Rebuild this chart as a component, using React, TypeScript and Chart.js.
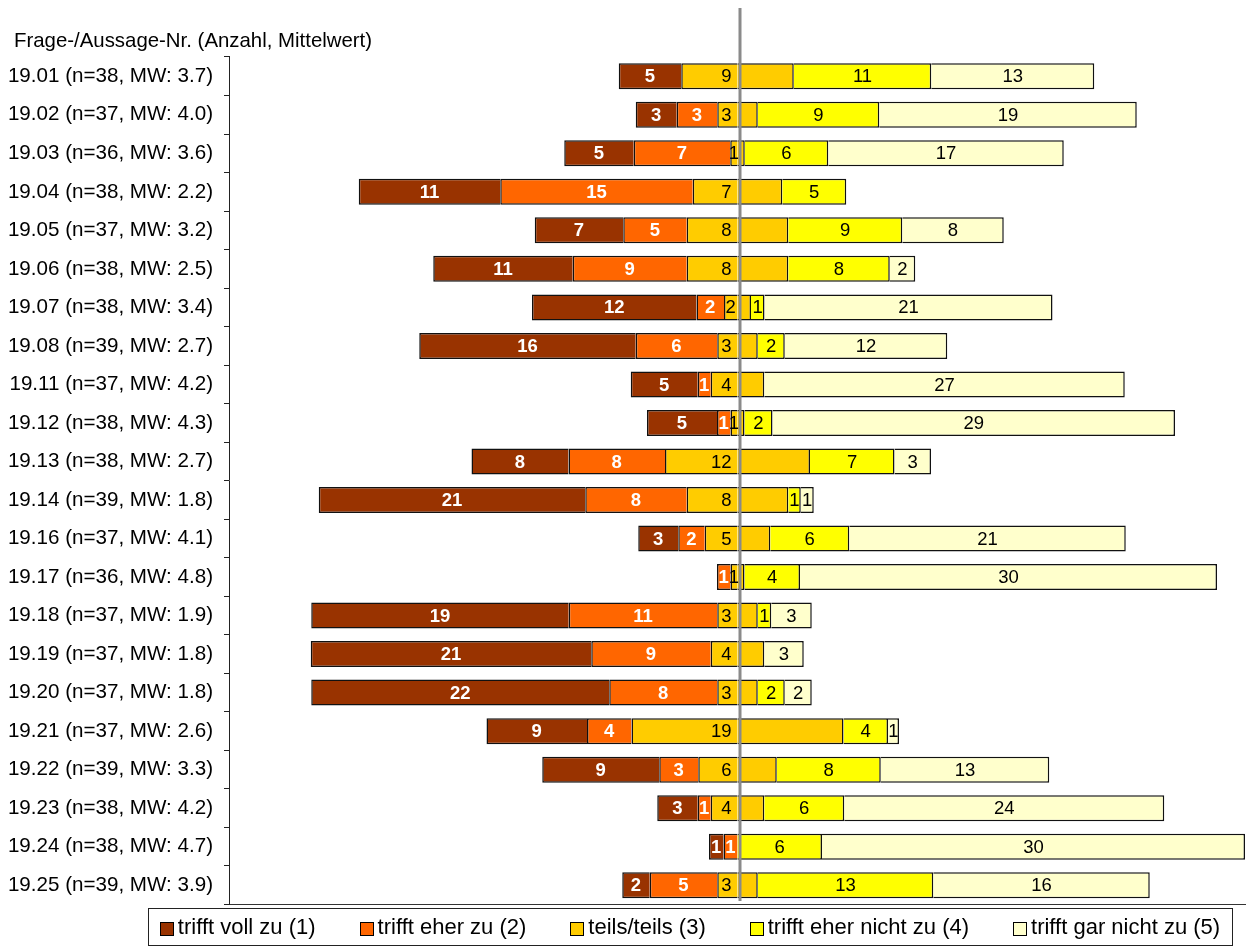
import React, { useEffect, useRef } from 'react';
import { Chart, registerables } from 'chart.js';

Chart.register(...registerables);

const FONT = "'Liberation Sans', Arial, Helvetica, sans-serif";

// ---- data -------------------------------------------------------------
const questionIds = ['19.01', '19.02', '19.03', '19.04', '19.05', '19.06', '19.07', '19.08', '19.11', '19.12', '19.13',
  '19.14', '19.16', '19.17', '19.18', '19.19', '19.20', '19.21', '19.22', '19.23', '19.24', '19.25'];
const respondents = [38, 37, 36, 38, 37, 38, 38, 39, 37, 38, 38, 39, 37, 36, 37, 37, 37, 37, 39, 38, 38, 39];
const means = [3.7, 4.0, 3.6, 2.2, 3.2, 2.5, 3.4, 2.7, 4.2, 4.3, 2.7, 1.8, 4.1, 4.8, 1.9, 1.8, 1.8, 2.6, 3.3, 4.2, 4.7, 3.9];

const seriesNames = ['trifft voll zu (1)', 'trifft eher zu (2)', 'teils/teils (3)', 'trifft eher nicht zu (4)', 'trifft gar nicht zu (5)'];
const seriesColors = ['#993300', '#FF6600', '#FFCC00', '#FFFF00', '#FFFFCC'];

// counts shown as segment labels
const count1 = [5, 3, 5, 11, 7, 11, 12, 16, 5, 5, 8, 21, 3, 0, 19, 21, 22, 9, 9, 3, 1, 2];
const count2 = [0, 3, 7, 15, 5, 9, 2, 6, 1, 1, 8, 8, 2, 1, 11, 9, 8, 4, 3, 1, 1, 5];
const count3 = [9, 3, 1, 7, 8, 8, 2, 3, 4, 1, 12, 8, 5, 1, 3, 4, 3, 19, 6, 4, 0, 3];
const count4 = [11, 9, 6, 5, 9, 8, 1, 2, 0, 2, 7, 1, 6, 4, 1, 0, 2, 4, 8, 6, 6, 13];
const count5 = [13, 19, 17, 0, 8, 2, 21, 12, 27, 29, 3, 1, 21, 30, 3, 3, 2, 1, 13, 24, 30, 16];

// segment lengths (percent)
const pct1 = [12.5, 8.2, 13.9, 28.3, 17.7, 27.9, 32.9, 43.3, 13.4, 14.0, 19.4, 53.3, 8.0, 0, 51.5, 56.1, 59.6, 20.1, 23.4, 8.1, 2.9, 5.5];
const pct2 = [0, 8.1, 19.3, 38.5, 12.7, 22.8, 5.5, 16.3, 2.6, 2.7, 19.3, 20.3, 5.3, 2.7, 29.7, 23.9, 21.6, 8.9, 7.8, 2.6, 2.8, 13.5];
const pct3 = [22.5, 8.1, 2.9, 17.9, 20.3, 20.3, 5.4, 8.1, 10.7, 2.8, 29.0, 20.3, 13.1, 2.8, 8.1, 10.7, 8.1, 42.4, 15.7, 10.7, 0, 8.1];
const pct4 = [27.5, 24.3, 16.7, 12.8, 22.8, 20.3, 2.7, 5.4, 0, 5.6, 16.9, 2.5, 15.8, 11.1, 2.7, 0, 5.4, 8.9, 20.8, 16.0, 16.9, 35.1];
const pct5 = [32.6, 51.5, 47.1, 0, 20.3, 5.1, 57.6, 32.5, 72.1, 80.5, 7.3, 2.6, 55.3, 83.4, 8.1, 7.9, 5.4, 2.2, 33.7, 64.0, 84.6, 43.3];

const titleText = 'Frage-/Aussage-Nr. (Anzahl, Mittelwert)';

// ---- helpers ----------------------------------------------------------
const categoryLabels = questionIds.map((id, i) => `${id} (n=${respondents[i]}, MW: ${means[i].toFixed(1)})`);
const neg = (arr: number[], f = 1) => arr.map((v) => (v ? -v * f : null));
const pos = (arr: number[], f = 1) => arr.map((v) => (v ? v * f : null));

const extrasPlugin = {
  id: 'divergingExtras',
  afterLayout(chart: any) {
    // let the category labels use the space left of the axis box (avoid clipping)
    const y = chart.scales.y;
    if (y) y.left = 0;
  },
  afterDatasetsDraw(chart: any) {
    const { ctx, chartArea, scales } = chart;
    const x0 = scales.x.getPixelForValue(0);
    ctx.save();
    // centre line
    ctx.strokeStyle = '#8a8a8a';
    ctx.lineWidth = 3;
    ctx.beginPath();
    ctx.moveTo(x0 + 2.5, 8);
    ctx.lineTo(x0 + 2.5, chartArea.bottom - 3.5);
    ctx.stroke();
    // segment labels
    ctx.textBaseline = 'middle';
    chart.data.datasets.forEach((ds: any, di: number) => {
      if (!ds.counts) return;
      const meta = chart.getDatasetMeta(di);
      ctx.font = `${ds.labelBold ? '700' : '400'} 18.5px ${FONT}`;
      ctx.fillStyle = ds.labelBold ? '#ffffff' : '#000000';
      meta.data.forEach((bar: any, i: number) => {
        const c = ds.counts[i];
        if (!c) return;
        const { x, y, base } = bar.getProps(['x', 'y', 'base'], true);
        const left = Math.min(x, base);
        const right = Math.max(x, base);
        const text = String(c);
        if (ds.labelMode === 'inner') {
          const tw = ctx.measureText(text).width;
          const halfW = right - left;
          if (tw + 6 <= halfW) {
            ctx.textAlign = 'right';
            ctx.fillText(text, x0 - 6, y + 1);
          } else {
            ctx.textAlign = 'center';
            ctx.fillText(text, (left + right) / 2, y + 1);
          }
        } else {
          ctx.textAlign = 'center';
          ctx.fillText(text, (left + right) / 2, y + 1);
        }
      });
    });
    ctx.restore();
  },
  afterDraw(chart: any) {
    const { ctx } = chart;
    ctx.save();
    ctx.font = `22px ${FONT}`;
    const marker = 14;
    const markerGap = 4;
    const itemGap = 44;
    const widths = seriesNames.map((n) => marker + markerGap + ctx.measureText(n).width);
    const total = widths.reduce((a, b) => a + b, 0) + itemGap * (seriesNames.length - 1);
    const centerX = 690;
    let x = centerX - total / 2;
    const boxTop = 908;
    const boxH = 37;
    const midY = 928;
    ctx.strokeStyle = '#222';
    ctx.lineWidth = 1;
    ctx.strokeRect(Math.round(x - 12) + 0.5, boxTop + 0.5, Math.round(total + 24), boxH);
    seriesNames.forEach((n, i) => {
      const mx = Math.round(x);
      const my = Math.round(midY - marker / 2 + 1);
      ctx.fillStyle = seriesColors[i];
      ctx.fillRect(mx, my, marker, marker);
      ctx.strokeStyle = '#000';
      ctx.strokeRect(mx + 0.5, my + 0.5, marker - 1, marker - 1);
      ctx.fillStyle = '#000';
      ctx.textBaseline = 'middle';
      ctx.textAlign = 'left';
      ctx.fillText(n, x + marker + markerGap, midY);
      x += widths[i] + itemGap;
    });
    ctx.restore();
  },
};

export default function App() {
  const canvasRef = useRef<HTMLCanvasElement | null>(null);

  useEffect(() => {
    if (!canvasRef.current) return;
    Chart.defaults.font.family = FONT;
    const common = { borderColor: '#111111', borderWidth: 1.5, borderSkipped: 'start' as const };
    const chart = new Chart(canvasRef.current, {
      type: 'bar',
      data: {
        labels: categoryLabels,
        datasets: [
          { label: seriesNames[2] + ' L', data: neg(pct3, 0.5), backgroundColor: seriesColors[2], counts: count3, labelMode: 'inner', ...common } as any,
          { label: seriesNames[1], data: neg(pct2), backgroundColor: seriesColors[1], counts: count2, labelBold: true, ...common } as any,
          { label: seriesNames[0], data: neg(pct1), backgroundColor: seriesColors[0], counts: count1, labelBold: true, ...common } as any,
          { label: seriesNames[2], data: pos(pct3, 0.5), backgroundColor: seriesColors[2], ...common } as any,
          { label: seriesNames[3], data: pos(pct4), backgroundColor: seriesColors[3], counts: count4, ...common } as any,
          { label: seriesNames[4], data: pos(pct5), backgroundColor: seriesColors[4], counts: count5, ...common } as any,
        ],
      },
      options: {
        animation: false,
        responsive: false,
        indexAxis: 'y',
        events: [],
        datasets: { bar: { barPercentage: 0.675, categoryPercentage: 1 } },
        layout: { padding: { left: 14, right: 0, top: 0, bottom: 44.5 } },
        plugins: {
          legend: { display: false },
          tooltip: { enabled: false },
          title: {
            display: true,
            text: titleText,
            align: 'start',
            color: '#000',
            font: { family: FONT, size: 20.4, weight: 'normal', lineHeight: 1.2 },
            padding: { top: 29.5, bottom: 3 },
          },
        },
        scales: {
          x: {
            type: 'linear',
            stacked: true,
            min: -101.7,
            max: 101.7,
            ticks: { display: false },
            grid: { display: false, drawTicks: false },
            border: { display: true, color: '#333', width: 1 },
            afterFit: (s: any) => { s.height = 0; },
          },
          y: {
            type: 'category',
            stacked: true,
            offset: true,
            ticks: { color: '#000', font: { family: FONT, size: 20.6 }, padding: 11, autoSkip: false },
            grid: { display: true, drawOnChartArea: false, drawTicks: true, tickLength: 5, color: '#222', offset: true },
            border: { display: true, color: '#222', width: 1 },
            afterFit: (s: any) => { s.width = 215; },
          },
        },
      } as any,
      plugins: [extrasPlugin],
    });
    return () => chart.destroy();
  }, []);

  return (
    <div style={{ position: 'absolute', left: 0, top: 0, width: 1246, height: 949, background: '#fff' }}>
      <canvas ref={canvasRef} width={1246} height={949} />
    </div>
  );
}
